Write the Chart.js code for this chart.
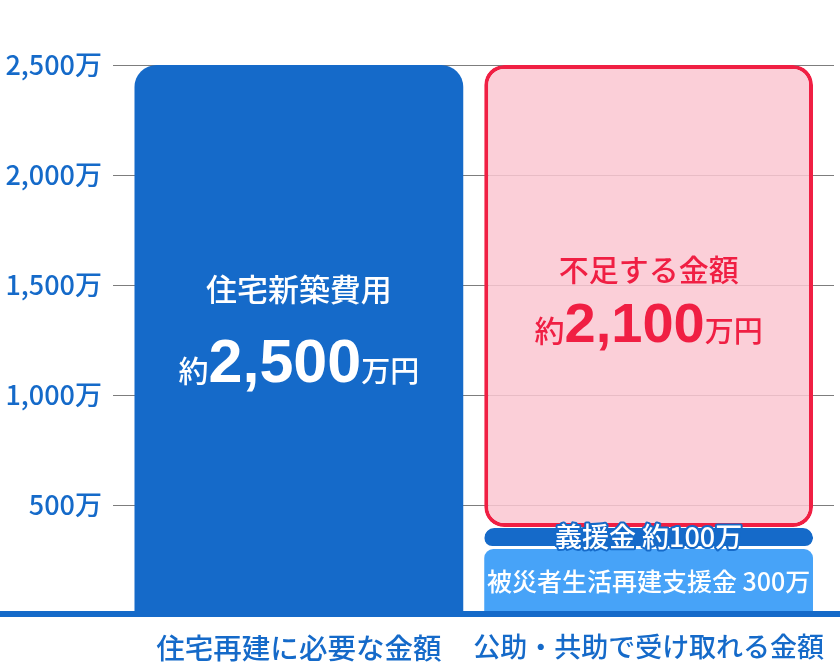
<!DOCTYPE html>
<html lang="ja">
<head>
<meta charset="utf-8">
<title>住宅再建の資金</title>
<script src="https://cdn.jsdelivr.net/npm/chart.js@4.4.1/dist/chart.umd.min.js"></script>
<style>
    html, body { margin: 0; padding: 0; background: #fff; }
    #wrap { width: 840px; height: 668px; position: relative; }
</style>
</head>
<body>
<div id="wrap"><canvas id="canvas"></canvas></div>
<script>
const categories = ["住宅再建に必要な金額", "公助・共助で受け取れる金額"];
const requiredCost = [2500, null];
const supportGrant = [null, 300];
const donation = [null, 100];
const shortage = [null, 2100];
const yTicks = [0, 500, 1000, 1500, 2000, 2500];

const BLUE = "#156ac9";
const LIGHT_BLUE = "#47a3f8";
const RED = "#f01f43";
const PINK = "rgba(250, 199, 209, 0.85)";
const CJK = "'Noto Sans CJK JP', 'Noto Sans', sans-serif";
const NUM = "'Liberation Sans', Arial, sans-serif";

function l(element) {
    return document.getElementById(element);
}

function yenLabel(value) {
    return value.toLocaleString("en-US") + "万";
}

// 約 + big number + 万円, centred as one group
function drawAmount(ctx, cx, baseline, value, numSize, color) {
    let parts = [
        {text: "約", font: "500 30px " + CJK},
        {text: value.toLocaleString("en-US"), font: "bold " + numSize + "px " + NUM},
        {text: "万円", font: "500 29px " + CJK}
    ];
    let total = 0;
    for (let p of parts) {
        ctx.font = p.font;
        p.w = ctx.measureText(p.text).width;
        total += p.w;
    }
    let x = cx - total / 2;
    ctx.fillStyle = color;
    ctx.textAlign = "left";
    ctx.textBaseline = "alphabetic";
    for (let p of parts) {
        ctx.font = p.font;
        ctx.fillText(p.text, x, baseline);
        x += p.w;
    }
}

const gridPlugin = {
    id: "grid",
    beforeDatasetsDraw(chart) {
        const ctx = chart.ctx;
        const y = chart.scales.y;
        ctx.save();
        ctx.strokeStyle = "#7d7d7d";
        ctx.lineWidth = 1.2;
        for (let t of yTicks) {
            if (t === 0) continue;
            let py = Math.round(y.getPixelForValue(t)) + 0.5;
            ctx.beginPath();
            ctx.moveTo(113, py);
            ctx.lineTo(834, py);
            ctx.stroke();
        }
        ctx.restore();
    }
};

const labelPlugin = {
    id: "labels",
    afterDatasetsDraw(chart) {
        const ctx = chart.ctx;
        const y = chart.scales.y;
        ctx.save();

        // baseline axis
        let y0 = y.getPixelForValue(0);
        ctx.fillStyle = BLUE;
        ctx.fillRect(0, y0 - 4, chart.width, 6);

        let left = chart.getDatasetMeta(0).data[0];
        let grant = chart.getDatasetMeta(1).data[1];
        let gift = chart.getDatasetMeta(2).data[1];
        let gap = chart.getDatasetMeta(3).data[1];

        ctx.textAlign = "center";
        ctx.textBaseline = "middle";
        ctx.fillStyle = "#fff";
        ctx.font = "500 31px " + CJK;
        ctx.fillText("住宅新築費用", left.x, y.getPixelForValue(1480));
        drawAmount(ctx, left.x, y.getPixelForValue(1060), requiredCost[0], 61, "#fff");

        ctx.textAlign = "center";
        ctx.textBaseline = "middle";
        ctx.fillStyle = RED;
        ctx.font = "500 30px " + CJK;
        ctx.fillText("不足する金額", gap.x, y.getPixelForValue(1570));
        drawAmount(ctx, gap.x, y.getPixelForValue(1240), shortage[1], 56, RED);

        ctx.textAlign = "center";
        ctx.textBaseline = "middle";
        ctx.font = "500 27px " + CJK;
        let giftY = (gift.y + gift.base) / 2;
        ctx.lineJoin = "round";
        ctx.lineWidth = 4;
        ctx.strokeStyle = BLUE;
        ctx.strokeText("義援金 約" + donation[1] + "万", gift.x, giftY - 1);
        ctx.fillStyle = "#fff";
        ctx.fillText("義援金 約" + donation[1] + "万", gift.x, giftY - 1);

        ctx.font = "500 25px " + CJK;
        ctx.fillText("被災者生活再建支援金 " + supportGrant[1] + "万", grant.x, (grant.y + grant.base) / 2 - 1);

        ctx.restore();
    }
};

const chart = new Chart(l("canvas"), {
    type: "bar",
    data: {
        labels: categories,
        datasets: [
            {
                label: "住宅新築費用",
                data: requiredCost,
                backgroundColor: BLUE,
                borderWidth: 0,
                borderSkipped: false,
                borderRadius: {topLeft: 22, topRight: 22, bottomLeft: 0, bottomRight: 0}
            },
            {
                label: "被災者生活再建支援金",
                data: supportGrant,
                backgroundColor: LIGHT_BLUE,
                borderWidth: 0,
                borderSkipped: false,
                borderRadius: {topLeft: 9, topRight: 9, bottomLeft: 0, bottomRight: 0}
            },
            {
                label: "義援金",
                data: donation,
                backgroundColor: BLUE,
                borderColor: "#fff",
                borderWidth: {top: 1, bottom: 3, left: 0, right: 0},
                borderSkipped: false,
                borderRadius: {topLeft: 11, topRight: 11, bottomLeft: 11, bottomRight: 11}
            },
            {
                label: "不足する金額",
                data: shortage,
                backgroundColor: PINK,
                borderColor: RED,
                borderWidth: 4,
                borderSkipped: false,
                borderRadius: {topLeft: 20, topRight: 20, bottomLeft: 20, bottomRight: 20}
            }
        ]
    },
    options: {
        responsive: true,
        maintainAspectRatio: false,
        devicePixelRatio: 1,
        animation: false,
        categoryPercentage: 1,
        barPercentage: 0.94,
        layout: {padding: {top: 65, right: 16.5, left: 0, bottom: 0}},
        plugins: {
            legend: {display: false},
            tooltip: {enabled: false}
        },
        scales: {
            x: {
                stacked: true,
                grid: {display: false, drawTicks: false},
                border: {display: false},
                afterFit(scale) {
                    scale.height = 53;
                    scale.paddingLeft = 0;
                    scale.paddingRight = 0;
                },
                ticks: {
                    padding: 16,
                    maxRotation: 0,
                    minRotation: 0,
                    autoSkip: false,
                    color: BLUE,
                    font: ctx => ({family: CJK, size: ctx.index === 0 ? 28.5 : 27, weight: "500"})
                }
            },
            y: {
                stacked: true,
                min: 0,
                max: 2500,
                grid: {display: false, drawTicks: false},
                border: {display: false},
                afterFit(scale) { scale.width = 124; },
                afterBuildTicks(scale) {
                    scale.ticks = yTicks.map(v => ({value: v}));
                },
                ticks: {
                    padding: 22,
                    color: BLUE,
                    font: {family: CJK, size: 27, weight: "500"},
                    callback: value => value === 0 ? "" : yenLabel(value)
                }
            }
        }
    },
    plugins: [gridPlugin, labelPlugin]
});
</script>
</body>
</html>
